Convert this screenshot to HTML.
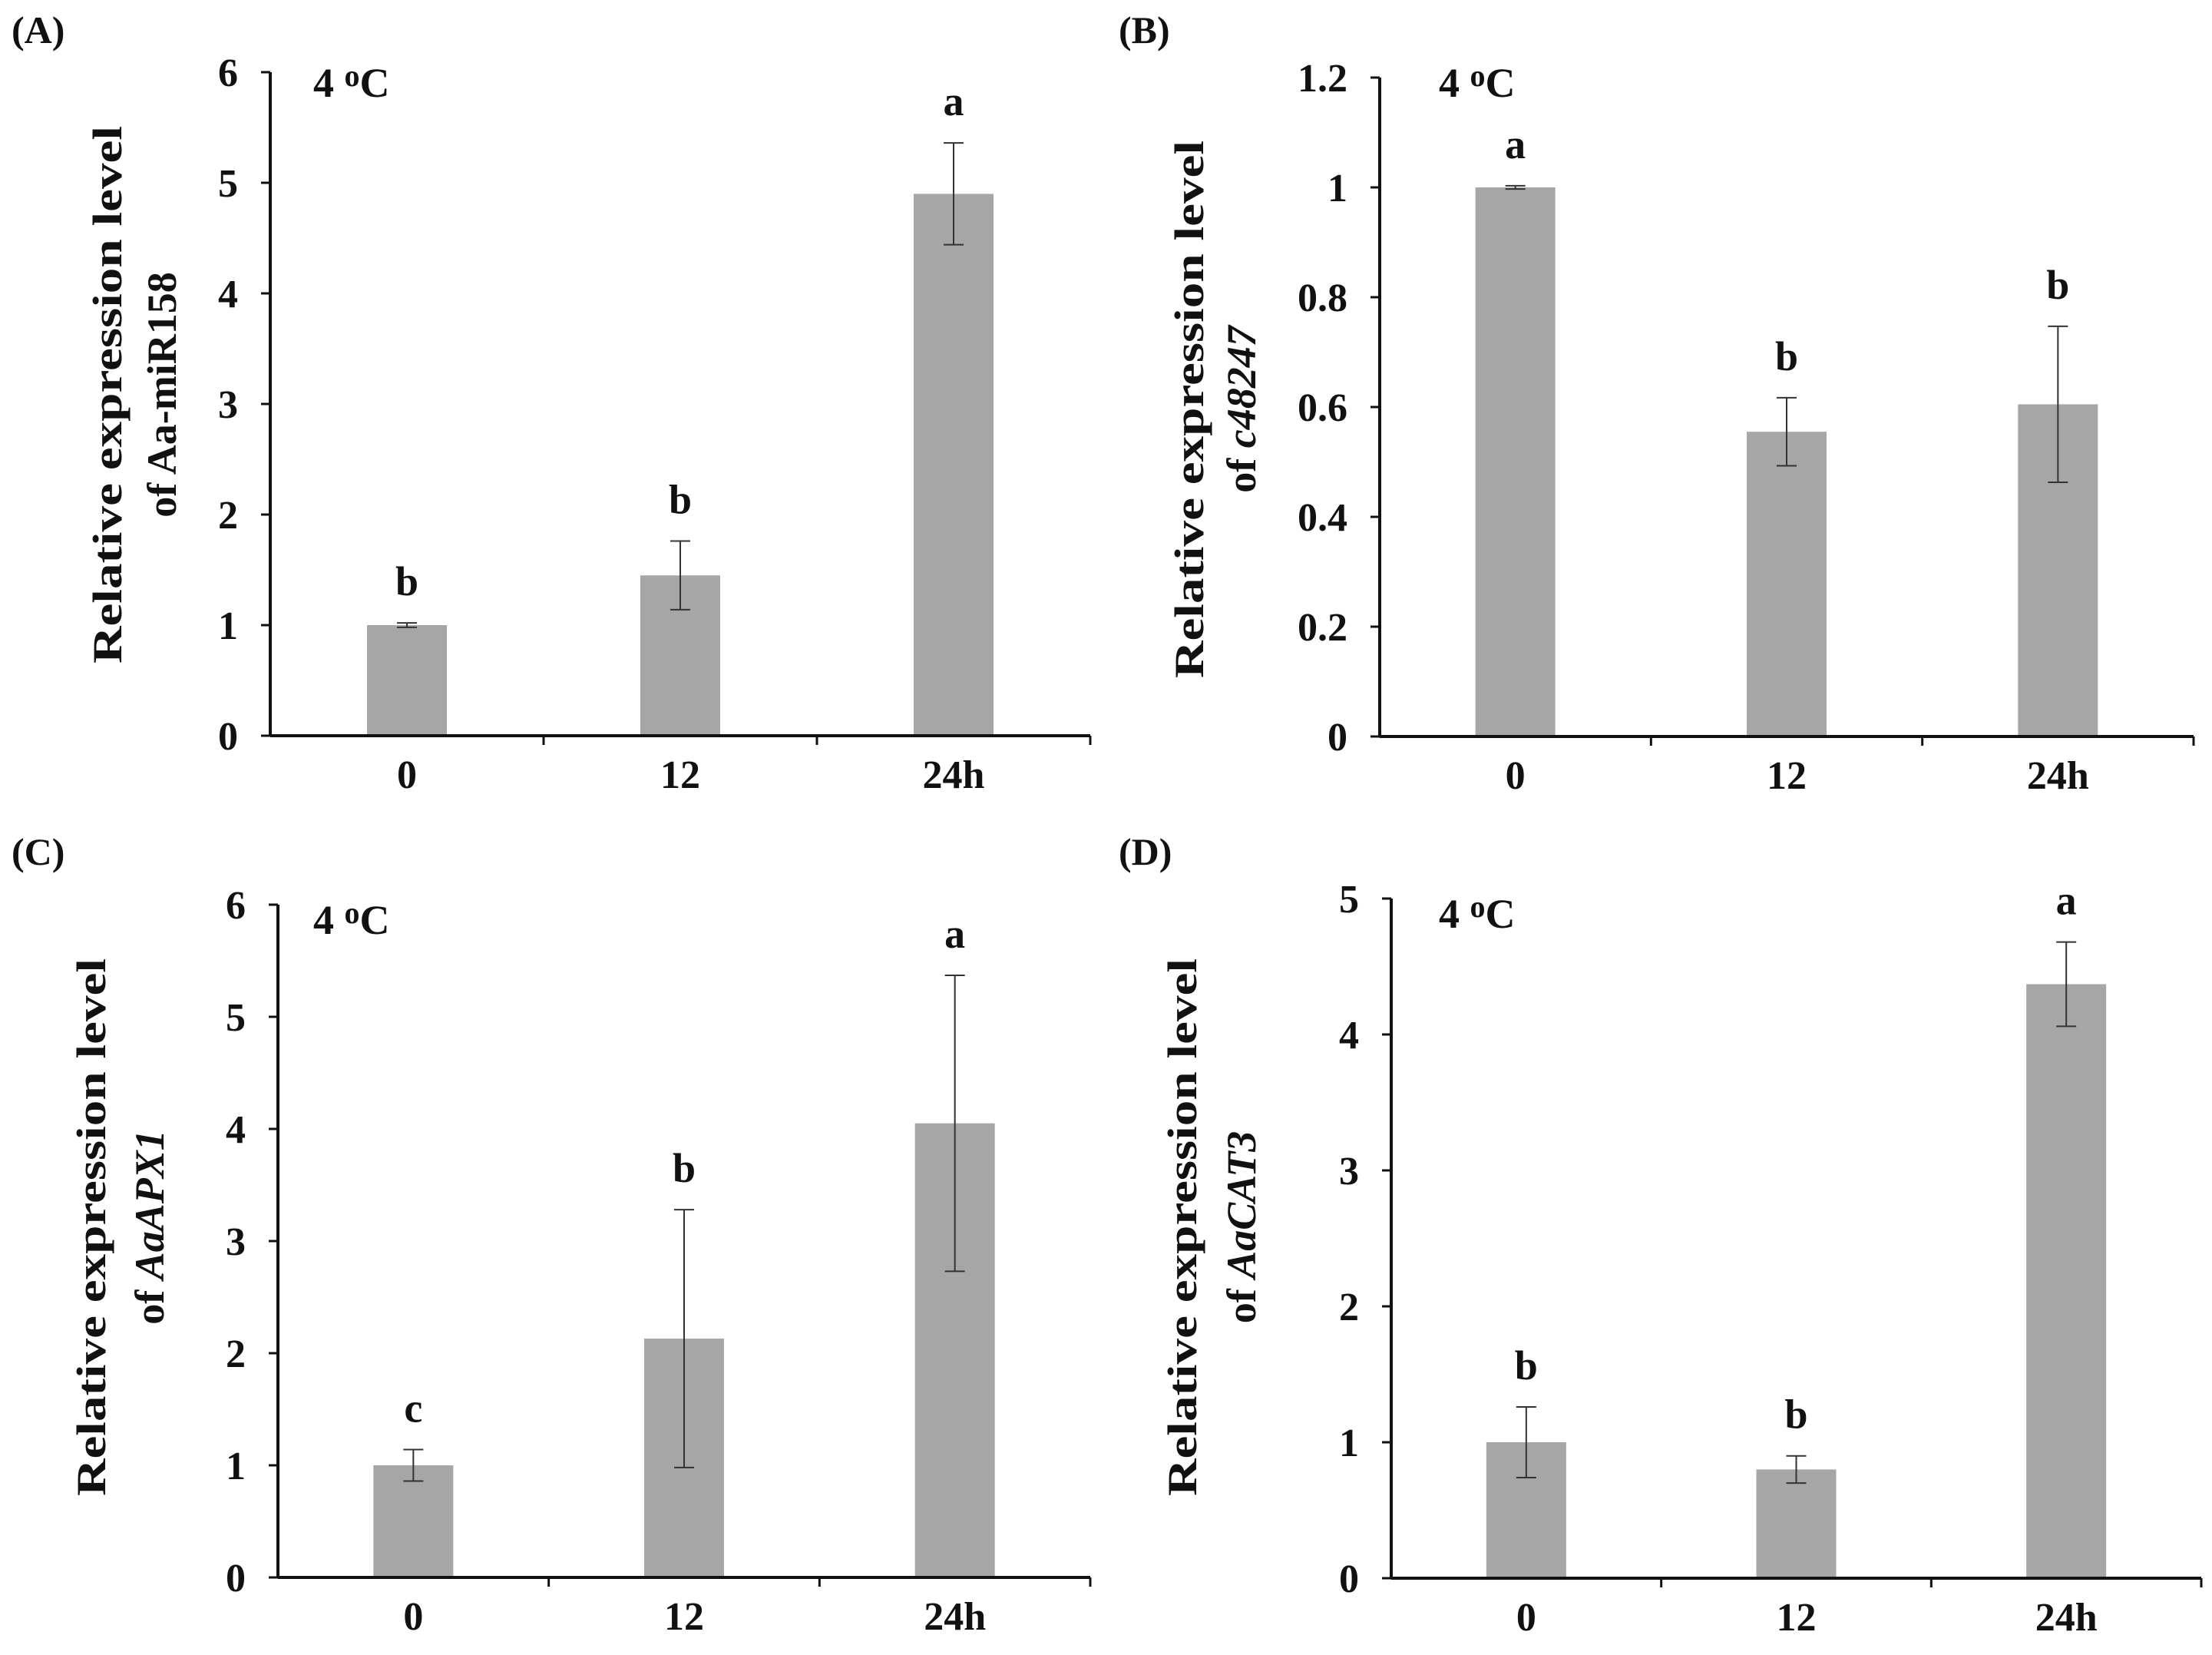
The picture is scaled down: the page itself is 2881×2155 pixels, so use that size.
<!DOCTYPE html>
<html><head><meta charset="utf-8"><style>
html,body{margin:0;padding:0;background:#fff}
svg{display:block}
text{font-family:"Liberation Serif",serif;font-weight:bold;fill:#111}
</style></head><body>
<svg id="fig" width="2881" height="2155" viewBox="0 0 2881 2155" xmlns="http://www.w3.org/2000/svg"></svg>
<script>
const categories = ["0", "12", "24h"];
const valuesA = [1.0, 1.45, 4.9];
const errorsA = [0.02, 0.31, 0.46];
const lettersA = ["b", "b", "a"];
const ticksA = ["0", "1", "2", "3", "4", "5", "6"];
const valuesB = [1.0, 0.555, 0.605];
const errorsB = [0.003, 0.062, 0.142];
const lettersB = ["a", "b", "b"];
const ticksB = ["0", "0.2", "0.4", "0.6", "0.8", "1", "1.2"];
const valuesC = [1.0, 2.13, 4.05];
const errorsC = [0.14, 1.15, 1.32];
const lettersC = ["c", "b", "a"];
const ticksC = ["0", "1", "2", "3", "4", "5", "6"];
const valuesD = [1.0, 0.8, 4.37];
const errorsD = [0.26, 0.1, 0.31];
const lettersD = ["b", "b", "a"];
const ticksD = ["0", "1", "2", "3", "4", "5"];

const NS = "http://www.w3.org/2000/svg";
const svg = document.getElementById("fig");
function mk(tag, attrs, parent, txt) {
  const e = document.createElementNS(NS, tag);
  for (const k in attrs) e.setAttribute(k, attrs[k]);
  if (txt !== undefined) e.textContent = txt;
  (parent || svg).appendChild(e);
  return e;
}
const panels = [
  {id:"a", label:"(A)", lx:15, ly:56, ax:352, x1:1420, y0:958, yTop:94, max:6, ticks:ticksA, vals:valuesA, errs:errorsA, lets:lettersA,
   tempX:408, tempY:126, t1x:140, t2x:211, tcy:514, gene:"Aa-miR158", italic:false},
  {id:"b", label:"(B)", lx:1457, ly:56, ax:1797, x1:2857, y0:959, yTop:101, max:1.2, ticks:ticksB, vals:valuesB, errs:errorsB, lets:lettersB,
   tempX:1874, tempY:126, t1x:1549, t2x:1617, tcy:533, gene:"c48247", italic:true},
  {id:"c", label:"(C)", lx:15, ly:1126, ax:362, x1:1420, y0:2054, yTop:1178, max:6, ticks:ticksC, vals:valuesC, errs:errorsC, lets:lettersC,
   tempX:408, tempY:1216, t1x:119, t2x:195, tcy:1598, gene:"AaAPX1", italic:true},
  {id:"d", label:"(D)", lx:1457, ly:1126, ax:1812, x1:2867, y0:2055, yTop:1170, max:5, ticks:ticksD, vals:valuesD, errs:errorsD, lets:lettersD,
   tempX:1874, tempY:1208, t1x:1540, t2x:1617, tcy:1598, gene:"AaCAT3", italic:true}
];
panels.forEach(p => {
  const g = mk("g", {});
  
  
  const yS = v => p.y0 - v / p.max * (p.y0 - p.yTop);
  const step = (p.x1 - p.ax) / categories.length;
  const xS = i => p.ax + step * (i + 0.5);
  const bw = 104;
  const pl = mk("text", {x:p.lx, y:p.ly, "font-size":50}, g, p.label);
  
  
  const tp = mk("text", {x:p.tempX, y:p.tempY, "font-size":54}, g);
  
  
  tp.innerHTML = '4 <tspan font-size="40" dy="-14">o</tspan><tspan dy="14">C</tspan>';
  // bars
  p.vals.forEach((v, i) => {
    const r = mk("rect", {x:xS(i) - bw/2, y:yS(v), width:bw, height:p.y0 - yS(v), fill:"#a6a6a6"}, g);
    
    
    const e = p.errs[i], cx = xS(i);
    const eg = mk("path", {d:`M${cx},${yS(v+e)}V${yS(v-e)}M${cx-13},${yS(v+e)}H${cx+13}M${cx-13},${yS(v-e)}H${cx+13}`, stroke:"#333", "stroke-width":2, fill:"none"}, g);
    
    
    const lt = mk("text", {x:cx, y:yS(v+e) - 36, "font-size":54, "text-anchor":"middle"}, g, p.lets[i]);
    
    
    const xl = mk("text", {x:cx, y:p.y0 + 68, "font-size":52, "text-anchor":"middle"}, g, categories[i]);
    
    
  });
  // axes
  const ya = mk("line", {x1:p.ax, y1:p.yTop, x2:p.ax, y2:p.y0, stroke:"#111", "stroke-width":4}, g);
  
  
  const xa = mk("line", {x1:p.ax, y1:p.y0, x2:p.x1, y2:p.y0, stroke:"#111", "stroke-width":4}, g);
  
  
  for (let i = 1; i <= categories.length; i++) {
    const tx = p.ax + step * i;
    const tk = mk("line", {x1:tx, y1:p.y0, x2:tx, y2:p.y0 + 12, stroke:"#111", "stroke-width":3}, g);
    
    
  }
  p.ticks.forEach((t, i) => {
    const v = p.max * i / (p.ticks.length - 1);
    const tk = mk("line", {x1:p.ax - 12, y1:yS(v), x2:p.ax, y2:yS(v), stroke:"#111", "stroke-width":3}, g);
    
    
    const tl = mk("text", {x:p.ax - 42, y:yS(v) + 18, "font-size":52, "text-anchor":"end"}, g, t);
    
    
  });
  // y title
  const t1 = mk("text", {x:p.t1x, y:p.tcy, "font-size":54, "text-anchor":"middle", transform:`rotate(-90 ${p.t1x} ${p.tcy})`, dy:18, textLength:700, lengthAdjust:"spacingAndGlyphs"}, g, "Relative expression level");
  
  
  const t2 = mk("text", {x:p.t2x, y:p.tcy, "font-size":54, "text-anchor":"middle", transform:`rotate(-90 ${p.t2x} ${p.tcy})`, dy:18}, g);
  
  
  t2.innerHTML = 'of ' + (p.italic ? '<tspan font-style="italic">' + p.gene + '</tspan>' : p.gene);
});
</script>
</body></html>
